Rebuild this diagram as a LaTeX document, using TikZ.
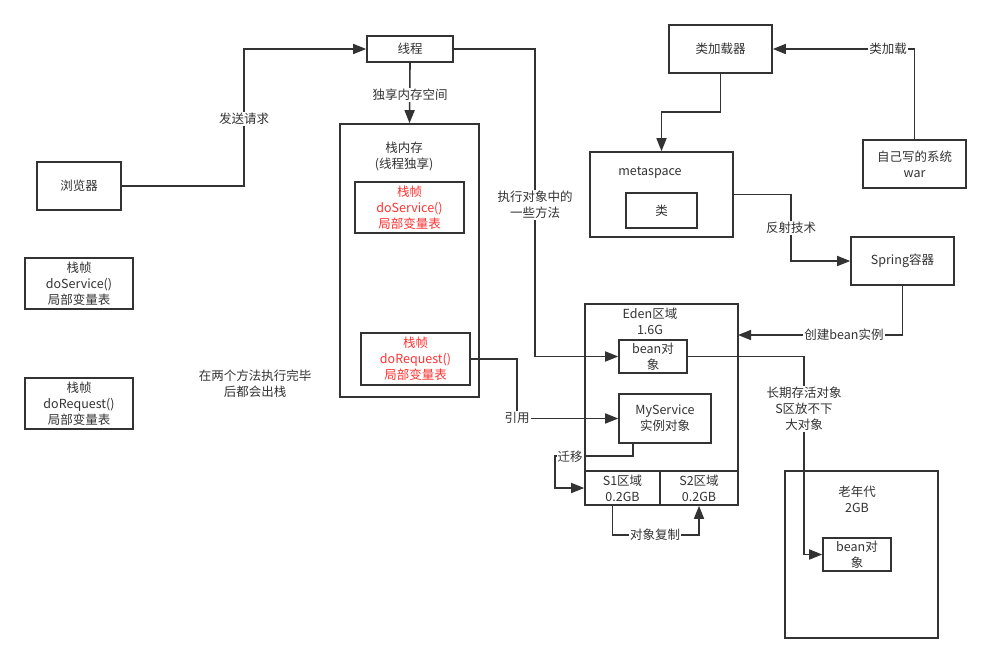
\documentclass[tikz,border=0pt]{standalone}
\usepackage{fontspec}
\setmainfont{Noto Sans CJK SC}
\usetikzlibrary{arrows.meta}
\definecolor{ink}{HTML}{333333}
\definecolor{redtxt}{HTML}{FF3333}
\begin{document}
\begin{tikzpicture}[x=1pt,y=-1pt,
  every node/.style={font=\fontsize{12.5}{16}\selectfont,text=ink,align=center},
  box/.style={draw=ink,line width=1.6pt,fill=white,inner sep=0pt},
  redbox/.style={box,text=redtxt},
  lbl/.style={fill=white,inner sep=1pt},
  ln/.style={draw=ink,line width=1.6pt},
  arr/.style={ln,-{Triangle[length=13pt,width=10pt]}}]
\useasboundingbox (0,0) rectangle (990,663);
% containers
\node[box,minimum width=139pt,minimum height=273pt] (stack) at (409.5,260.5) {};
\node[box,minimum width=143pt,minimum height=85pt] (meta) at (661.5,194.5) {};
\node[box,minimum width=153pt,minimum height=167pt] (eden) at (661.5,387.5) {};
\node[box,minimum width=153pt,minimum height=167pt] (old) at (861.5,554.5) {};
% container titles
\node (stackt) at (404,156) {栈内存\\(线程独享)};
\node (metat) at (650,173) {metaspace};
\node (edent) at (650,321) {Eden区域\\1.6G};
\node (oldt) at (857,499) {老年代\\2GB};
% boxes
\node[box,minimum width=86pt,minimum height=26pt] (thread) at (410,49) {线程};
\node[box,minimum width=84pt,minimum height=48pt] (browser) at (79,186) {浏览器};
\node[box,minimum width=108pt,minimum height=51pt] (lsvc) at (79,283.5) {栈帧\\doService()\\局部变量表};
\node[box,minimum width=108pt,minimum height=51pt] (lreq) at (79,403.5) {栈帧\\doRequest()\\局部变量表};
\node[redbox,minimum width=109pt,minimum height=51pt] (rsvc) at (409.5,207.5) {栈帧\\doService()\\局部变量表};
\node[redbox,minimum width=109pt,minimum height=52pt] (rreq) at (415.5,359) {栈帧\\doRequest()\\局部变量表};
\node[box,minimum width=103pt,minimum height=48pt] (loader) at (720.5,49) {类加载器};
\node[box,minimum width=71pt,minimum height=35pt] (cls) at (661.5,210.5) {类};
\node[box,minimum width=103pt,minimum height=48pt] (war) at (914.5,164) {自己写的系统\\war};
\node[box,minimum width=103pt,minimum height=48pt] (spring) at (902.5,261) {Spring容器};
\node[box,minimum width=68pt,minimum height=33pt] (bean1) at (653,356.5) {bean对\\象};
\node[box,minimum width=92pt,minimum height=49pt] (mysvc) at (665,418.5) {MyService\\实例对象};
\node[box,minimum width=75pt,minimum height=34pt] (s1) at (622.5,488) {S1区域\\0.2GB};
\node[box,minimum width=78pt,minimum height=34pt] (s2) at (699,488) {S2区域\\0.2GB};
\node[box,minimum width=68pt,minimum height=33pt] (bean2) at (857,554.5) {bean对\\象};
% free text
\node (note) at (255,384) {在两个方法执行完毕\\后都会出栈};
% connectors
\draw[arr] (browser.east) -| (244,49) -- (thread.west);
\draw[arr] (thread.south) -- (stack.north);
\draw[arr] (thread.east) -- (535,49) |- (bean1.west);
\draw[arr] (loader.south) |- (661.5,112) -- (meta.north);
\draw[arr] (war.north) |- (loader.east);
\draw[arr] (meta.east) -- (791,194.5) |- (spring.west);
\draw[arr] (spring.south) |- (738,335);
\draw[arr] (bean1.east) -- (804,356.5) |- (bean2.west);
\draw[arr] (rreq.east) -- (517,359) |- (mysvc.west);
\draw[arr] ([xshift=-32pt]mysvc.south) |- (555,456) |- (s1.west);
\draw[arr] ([xshift=-10pt]s1.south) |- (699,535) -- (s2.south);
% connector labels
\node[lbl] (l1) at (244,119) {发送请求};
\node[lbl] (l2) at (410,95) {独享内存空间};
\node[lbl] (l3) at (535,205) {执行对象中的\\一些方法};
\node[lbl] (l4) at (888,49) {类加载};
\node[lbl] (l5) at (791,228) {反射技术};
\node[lbl] (l6) at (844,335) {创建bean实例};
\node[lbl] (l7) at (804,409) {长期存活对象\\S区放不下\\大对象};
\node[lbl] (l8) at (517,418) {引用};
\node[lbl] (l9) at (570,457) {迁移};
\node[lbl] (l10) at (655,535) {对象复制};
\end{tikzpicture}
\end{document}
